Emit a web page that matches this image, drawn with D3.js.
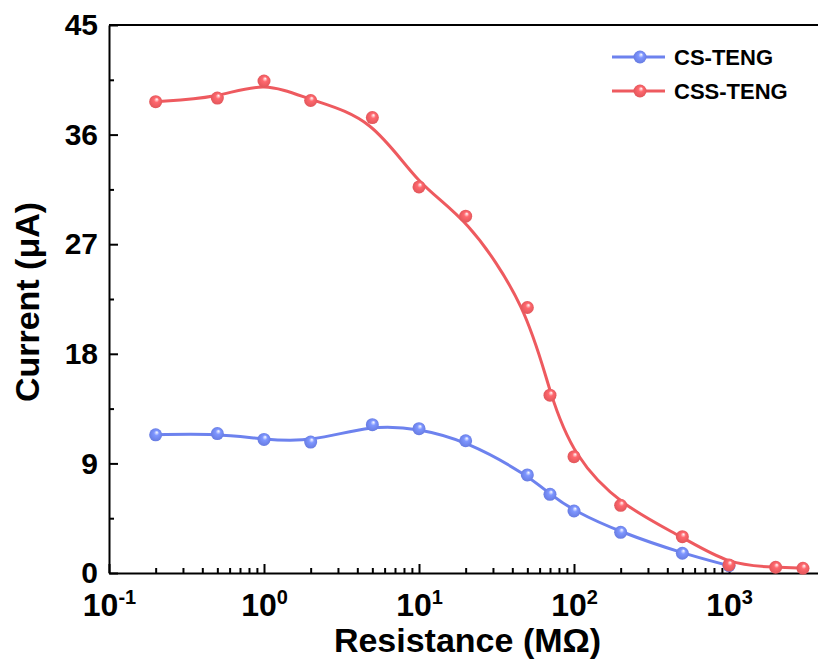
<!DOCTYPE html>
<html>
<head>
<meta charset="utf-8">
<script src="https://cdn.jsdelivr.net/npm/d3@7"></script>
<style>
  body { margin: 0; background: #fff; }
  svg { display: block; font-family: "Liberation Sans", Arial, sans-serif; font-weight: bold; }
</style>
</head>
<body>
<svg id="chart" width="818" height="666"></svg>
<script>
// resistance values (MOhm)
var resistance = [0.2, 0.5, 1, 2, 5, 10, 20, 50, 70, 100, 200, 500, 1000, 2000, 3000];
// current (uA)
var csTeng = [11.35, 11.45, 10.97, 10.75, 12.18, 11.85, 10.86, 8.05, 6.46, 5.09, 3.34, 1.62, 0.6];
var cssTeng = [38.7, 39.0, 40.4, 38.8, 37.4, 31.7, 29.3, 21.8, 14.6, 9.55, 5.56, 2.98, 0.66, 0.47, 0.39];
var seriesNames = ["CS-TENG", "CSS-TENG"];
var seriesColors = ["#6d82ee", "#ee5a5f"];
var yTicks = [0, 9, 18, 27, 36, 45];
var xDecades = [-1, 0, 1, 2, 3];

var width = 818, height = 666;
var margin = {top: 25, left: 109, bottom: 93};

var svg = d3.select("#chart");

var x = d3.scaleLog()
    .domain([0.1, 4000])
    .range([margin.left, margin.left + 155 * Math.log10(4000 / 0.1)]);

var y = d3.scaleLinear()
    .domain([0, 45])
    .range([height - margin.bottom, margin.top]);

// gradients for the shaded ball markers
var defs = svg.append("defs");
seriesColors.forEach(function(c, i) {
    var g = defs.append("radialGradient")
        .attr("id", "ball" + i)
        .attr("cx", "0.5").attr("cy", "0.5").attr("r", "0.55")
        .attr("fx", "0.6").attr("fy", "0.3");
    g.append("stop").attr("offset", "0%").attr("stop-color", "#ffffff");
    g.append("stop").attr("offset", "35%").attr("stop-color", d3.color(c).brighter(0.4));
    g.append("stop").attr("offset", "100%").attr("stop-color", d3.color(c).darker(0.2));
});

// minor y ticks
svg.append("g")
    .attr("transform", "translate(" + margin.left + ",0)")
    .call(d3.axisLeft(y)
        .tickValues(d3.range(4.5, 45, 9))
        .tickSizeInner(-5).tickSizeOuter(0)
        .tickFormat(""))
    .call(function(g) { g.select(".domain").remove(); })
    .selectAll("line").attr("stroke-width", 2);

// y axis
var yAxisG = svg.append("g")
    .attr("transform", "translate(" + margin.left + ",0)")
    .call(d3.axisLeft(y)
        .tickValues(yTicks)
        .tickSizeInner(-9).tickSizeOuter(0)
        .tickPadding(11));
yAxisG.select(".domain").attr("stroke-width", 2);
yAxisG.selectAll("line").attr("stroke-width", 2);
yAxisG.selectAll("text")
    .attr("font-size", 30)
    .attr("font-family", "Liberation Sans, Arial, sans-serif")
    .attr("font-weight", "bold")
    .attr("fill", "#000");

// minor x ticks
var minorX = [];
xDecades.forEach(function(e) {
    for (var k = 2; k <= 9; k++) {
        var v = k * Math.pow(10, e);
        if (v < 4000) minorX.push(v);
    }
});
svg.append("g")
    .attr("transform", "translate(0," + y(0) + ")")
    .call(d3.axisBottom(x)
        .tickValues(minorX)
        .tickSizeInner(-5).tickSizeOuter(0)
        .tickFormat(""))
    .call(function(g) { g.select(".domain").remove(); })
    .selectAll("line").attr("stroke-width", 2);

// x axis
var xAxisG = svg.append("g")
    .attr("transform", "translate(0," + y(0) + ")")
    .call(d3.axisBottom(x)
        .tickValues(xDecades.map(function(e) { return Math.pow(10, e); }))
        .tickSizeInner(-9).tickSizeOuter(0)
        .tickPadding(20));
xAxisG.select(".domain").attr("stroke-width", 2);
xAxisG.selectAll("line").attr("stroke-width", 2);
xAxisG.selectAll(".tick text")
    .text(null)
    .attr("font-size", 32)
    .attr("font-family", "Liberation Sans, Arial, sans-serif")
    .attr("font-weight", "bold")
    .attr("fill", "#000")
    .each(function(d) {
        var t = d3.select(this);
        t.append("tspan").text("10");
        t.append("tspan")
            .attr("font-size", 20)
            .attr("dy", "-0.6em")
            .text(Math.round(Math.log10(d)));
    });

// top frame line
svg.append("line")
    .attr("x1", margin.left).attr("x2", width)
    .attr("y1", y(45)).attr("y2", y(45))
    .attr("stroke", "#000").attr("stroke-width", 2);

// axis titles
svg.append("text")
    .attr("x", (x(0.1) + width) / 2 + 4)
    .attr("y", 652)
    .attr("text-anchor", "middle")
    .attr("font-size", 34)
    .text("Resistance (MΩ)");

svg.append("text")
    .attr("transform", "translate(39," + ((y(0) + y(45)) / 2 + 3) + ") rotate(-90)")
    .attr("text-anchor", "middle")
    .attr("font-size", 34)
    .text("Current (μA)");

// curves and points
var allSeries = [csTeng, cssTeng];
var line = d3.line()
    .x(function(d) { return x(d[0]); })
    .y(function(d) { return y(d[1]); })
    .curve(d3.curveBasis);

allSeries.forEach(function(vals, i) {
    var pts = vals.map(function(v, j) { return [resistance[j], v]; });
    svg.append("path")
        .datum(pts)
        .attr("fill", "none")
        .attr("stroke", seriesColors[i])
        .attr("stroke-width", 3)
        .attr("d", line);
});
allSeries.forEach(function(vals, i) {
    var pts = vals.map(function(v, j) { return [resistance[j], v]; });
    svg.selectAll(".pt" + i)
        .data(pts)
        .enter()
        .append("circle")
        .attr("class", "pt" + i)
        .attr("cx", function(d) { return x(d[0]); })
        .attr("cy", function(d) { return y(d[1]); })
        .attr("r", 6.5)
        .attr("fill", "url(#ball" + i + ")");
});

// legend
var legend = svg.append("g").attr("transform", "translate(612,57)");
seriesNames.forEach(function(name, i) {
    var row = legend.append("g").attr("transform", "translate(0," + (i * 34) + ")");
    row.append("line")
        .attr("x1", 0).attr("x2", 53)
        .attr("stroke", seriesColors[i]).attr("stroke-width", 3);
    row.append("circle")
        .attr("cx", 28).attr("r", 6.5)
        .attr("fill", "url(#ball" + i + ")");
    row.append("text")
        .attr("x", 62).attr("y", 8)
        .attr("font-size", 22)
        .text(name);
});
</script>
</body>
</html>
